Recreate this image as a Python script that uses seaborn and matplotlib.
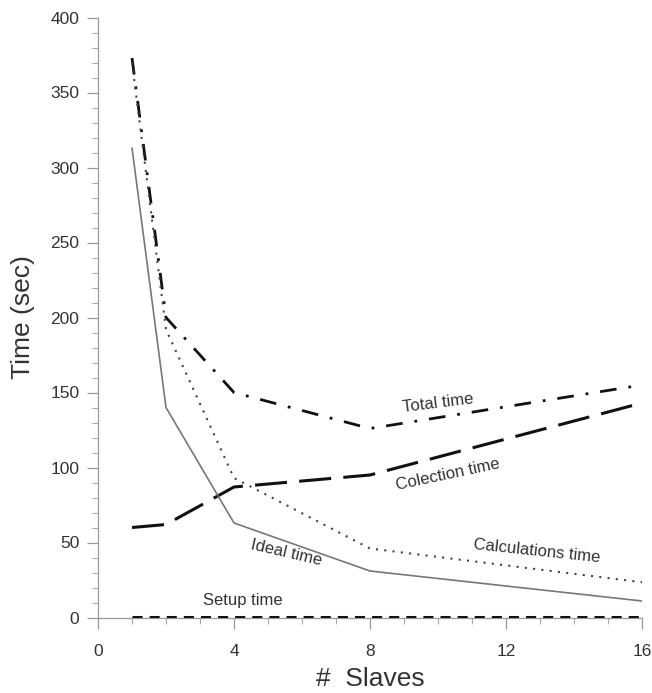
import matplotlib
matplotlib.use("Agg")
import matplotlib.pyplot as plt
from matplotlib.ticker import MultipleLocator
import seaborn as sns
import pandas as pd

slaves = [1, 2, 4, 8, 16]
total_time = [373, 200, 150, 126, 155]
collection_time = [60, 62, 87, 95, 143]
calculations_time = [370, 192, 93, 46, 23.5]
ideal_time = [313, 140, 63, 31, 11]
setup_time = [0.5, 0.5, 0.5, 0.5, 0.5]

x_ticks = [0, 4, 8, 12, 16]
y_ticks = [0, 50, 100, 150, 200, 250, 300, 350, 400]

sns.set_theme(style="white")
plt.rcParams["font.family"] = ["Liberation Sans", "DejaVu Sans"]

fig = plt.figure(figsize=(6.52, 6.93), dpi=100)
ax = fig.add_axes([98 / 652, 1 - 617.5 / 693, (642 - 98) / 652, 600 / 693])

series = [
    ("Total time", total_time, "#111111", 2.0, (0, (6, 4.3, 1, 4.3))),
    ("Colection time", collection_time, "#111111", 2.2, (0, (10.5, 4))),
    ("Calculations time", calculations_time, "#444444", 1.5, (0, (1, 3))),
    ("Ideal time", ideal_time, "#777777", 1.2, "-"),
    ("Setup time", setup_time, "#111111", 2.2, (0, (3.3, 2.3))),
]
for name, vals, col, lw, ls in series:
    df = pd.DataFrame({"Slaves": slaves, "Time": vals})
    sns.lineplot(data=df, x="Slaves", y="Time", ax=ax, color=col,
                 linewidth=lw, linestyle=ls, zorder=3)

ax.set_xlim(0, 16)
ax.set_ylim(0, 400)
ax.set_xticks(x_ticks)
ax.set_yticks(y_ticks)
ax.xaxis.set_minor_locator(MultipleLocator(1))
ax.yaxis.set_minor_locator(MultipleLocator(10))

for s in ["top", "right"]:
    ax.spines[s].set_visible(False)
for s in ["left", "bottom"]:
    ax.spines[s].set_color("#999999")
    ax.spines[s].set_linewidth(0.9)

ax.tick_params(axis="both", which="major", direction="out", length=8, width=0.9,
               color="#999999", labelsize=12.5, labelcolor="#333333",
               left=True, bottom=True)
ax.tick_params(axis="y", which="major", pad=5.5)
ax.tick_params(axis="x", which="major", pad=11)
ax.tick_params(axis="both", which="minor", direction="out", length=4, width=0.8,
               color="#aaaaaa", left=True, bottom=True)

ax.set_xlabel("#  Slaves", fontsize=19, color="#333333", labelpad=6)
ax.set_ylabel("Time (sec)", fontsize=19, color="#333333", labelpad=11)
ax.grid(False)

tcol = "#333333"
ax.text(10.0, 143, "Total time", fontsize=12, color=tcol, rotation=7,
        ha="center", va="center")
ax.text(10.3, 95, "Colection time", fontsize=12, color=tcol, rotation=12,
        ha="center", va="center")
ax.text(12.9, 44, "Calculations time", fontsize=12, color=tcol, rotation=-6,
        ha="center", va="center")
ax.text(5.53, 43, "Ideal time", fontsize=12, color=tcol, rotation=-13,
        ha="center", va="center")
ax.text(4.25, 11, "Setup time", fontsize=12, color=tcol, rotation=0,
        ha="center", va="center")

fig.savefig("out.png", dpi=100)
